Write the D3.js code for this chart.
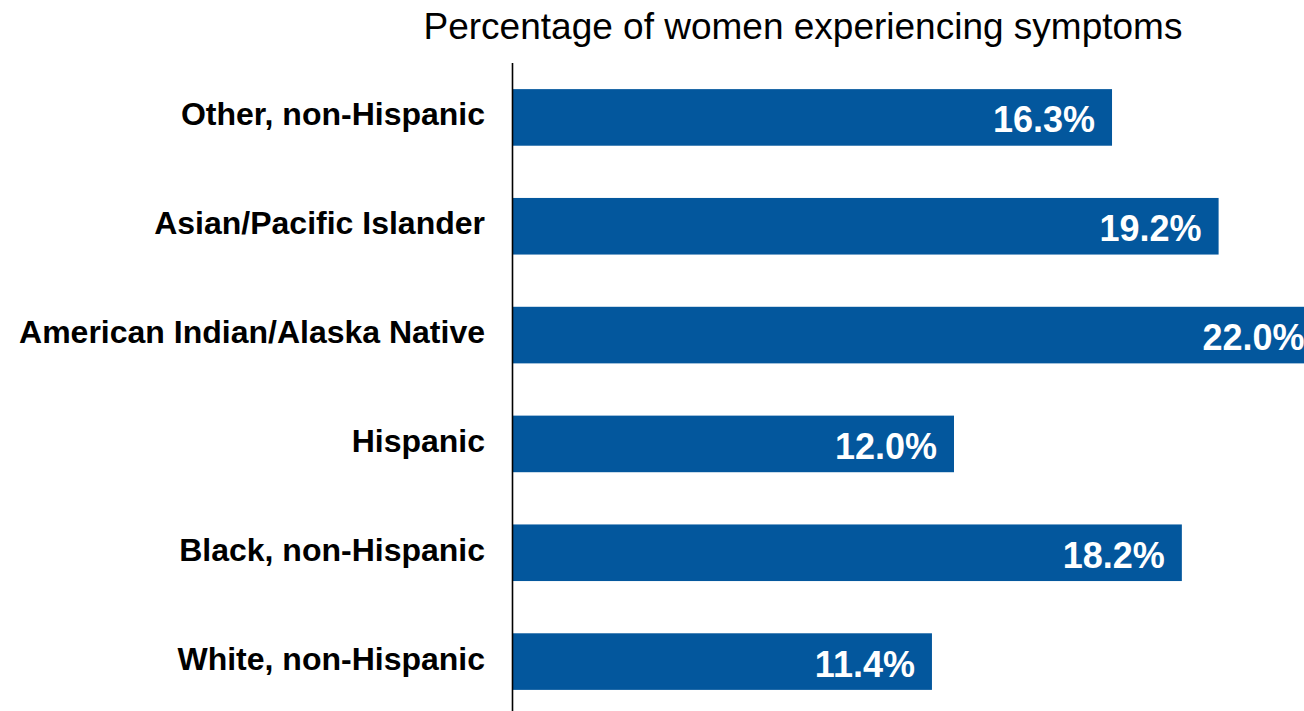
<!DOCTYPE html>
<html>
<head>
<meta charset="utf-8">
<script src="https://cdn.jsdelivr.net/npm/d3@7"></script>
<style>
  html, body { margin: 0; padding: 0; background: #fff; overflow: hidden; }
  svg { display: block; font-family: "Liberation Sans", Arial, sans-serif; }
</style>
</head>
<body>
<div id="chart"></div>
<script>
// chart data, top row first
const categories = [
    "Other, non-Hispanic",
    "Asian/Pacific Islander",
    "American Indian/Alaska Native",
    "Hispanic",
    "Black, non-Hispanic",
    "White, non-Hispanic"
];
const percentages = [16.3, 19.2, 22.0, 12.0, 18.2, 11.4];
const chartTitle = "Percentage of women experiencing symptoms";

document.addEventListener('DOMContentLoaded', function() {
    const width = 1304, height = 711;
    const barColor = "#03579d";

    const svg = d3.select("#chart").append("svg")
        .attr("width", width)
        .attr("height", height);

    // longest bar runs past the right edge, as in the original
    const x = d3.scaleLinear().domain([0, 22]).range([513, 1321.5]);
    const y = d3.scaleBand()
        .domain(categories)
        .range([63, 716])
        .paddingInner(0.48)
        .paddingOuter(0.24);

    const rows = categories.map((c, i) => ({ category: c, value: percentages[i] }));

    svg.append("text")
        .attr("x", 803)
        .attr("y", 39)
        .attr("text-anchor", "middle")
        .style("font-size", "37px")
        .style("fill", "#000")
        .text(chartTitle);

    svg.selectAll(".bar")
        .data(rows)
        .enter().append("rect")
        .attr("class", "bar")
        .attr("x", x(0))
        .attr("y", d => y(d.category))
        .attr("width", d => x(d.value) - x(0))
        .attr("height", y.bandwidth())
        .style("fill", barColor);

    svg.selectAll(".value")
        .data(rows)
        .enter().append("text")
        .attr("class", "value")
        .attr("x", d => x(d.value) - 17)
        .attr("y", d => y(d.category) + y.bandwidth() / 2 + 15)
        .attr("text-anchor", "end")
        .style("font-size", "36px")
        .style("font-weight", "bold")
        .style("fill", "#fff")
        .text(d => d3.format(".1f")(d.value) + "%");

    // category axis: only the line and the labels
    const yAxis = svg.append("g")
        .attr("transform", `translate(${x(0)},0)`)
        .call(d3.axisLeft(y).tickSize(0).tickPadding(28));

    yAxis.select(".domain")
        .attr("d", `M-0.5,63V${height}`)
        .style("stroke", "#000")
        .style("stroke-width", 1.6);

    yAxis.selectAll(".tick text")
        .attr("dy", "0.25em")
        .style("font-family", "'Liberation Sans', Arial, sans-serif")
        .style("font-size", "32px")
        .style("font-weight", "bold")
        .style("fill", "#000");
});
</script>
</body>
</html>
